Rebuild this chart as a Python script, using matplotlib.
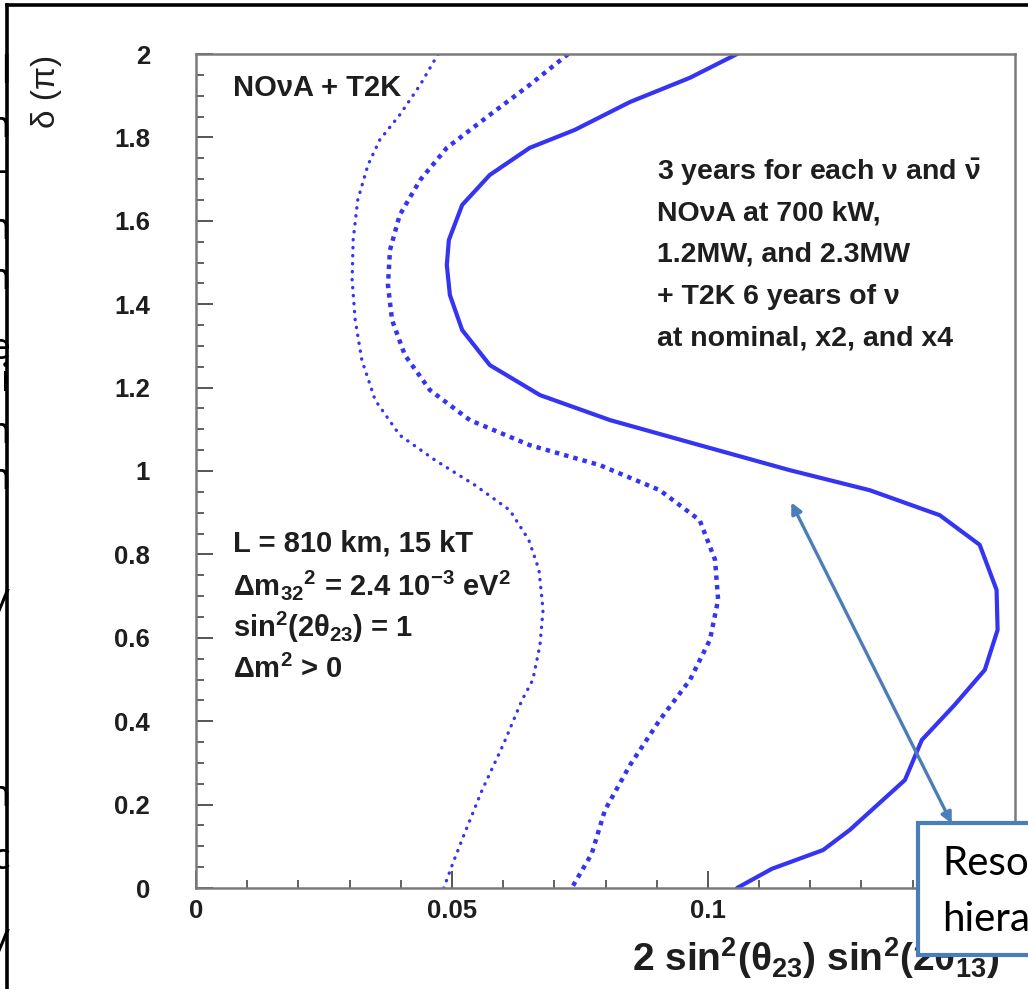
import matplotlib
matplotlib.use("Agg")
import matplotlib.pyplot as plt
from matplotlib.patches import Rectangle, FancyArrowPatch
from matplotlib.lines import Line2D
from matplotlib.ticker import MultipleLocator, FormatStrFormatter

plt.rcParams['font.family'] = ['Liberation Sans', 'DejaVu Sans']
plt.rcParams['mathtext.fontset'] = 'custom'
plt.rcParams['mathtext.rm'] = 'Liberation Sans:bold'
plt.rcParams['mathtext.it'] = 'Liberation Sans:bold'
plt.rcParams['mathtext.bf'] = 'Liberation Sans:bold'
plt.rcParams['mathtext.default'] = 'regular'

W, H = 1028, 989

# contours in (2 sin^2 th23 sin^2 2th13, delta/pi)
outer_x = [0.0473, 0.0438, 0.0398, 0.0359, 0.0336, 0.0316, 0.0307, 0.0305, 0.0311,
           0.0324, 0.0350, 0.0398, 0.0467, 0.0545, 0.0613, 0.0650, 0.0670, 0.0678,
           0.0672, 0.0658, 0.0637, 0.0600, 0.0559, 0.0525, 0.0502, 0.0484]
outer_y = [2.000, 1.926, 1.854, 1.794, 1.734, 1.650, 1.554, 1.458, 1.362,
           1.266, 1.170, 1.086, 1.026, 0.966, 0.906, 0.835, 0.763, 0.667,
           0.583, 0.499, 0.451, 0.343, 0.235, 0.132, 0.060, 0.000]

mid_x = [0.0727, 0.0652, 0.0574, 0.0490, 0.0438, 0.0398, 0.0379, 0.0375, 0.0383,
         0.0408, 0.0457, 0.0535, 0.0652, 0.0789, 0.0906, 0.0984, 0.1014, 0.1020,
         0.1004, 0.0965, 0.0906, 0.0848, 0.0799, 0.0773, 0.0734]
mid_y = [2.000, 1.926, 1.854, 1.775, 1.698, 1.614, 1.530, 1.446, 1.362,
         1.278, 1.194, 1.122, 1.062, 1.014, 0.954, 0.882, 0.787, 0.691,
         0.595, 0.499, 0.403, 0.295, 0.187, 0.082, 0.000]

solid_x = [0.1057, 0.0965, 0.0848, 0.0740, 0.0652, 0.0574, 0.0520, 0.0494, 0.0490,
           0.0496, 0.0520, 0.0574, 0.0672, 0.0809, 0.0984, 0.1160, 0.1316, 0.1453,
           0.1531, 0.1564, 0.1566, 0.1541, 0.1482, 0.1418, 0.1385, 0.1277, 0.1225,
           0.1125, 0.1057]
solid_y = [2.000, 1.943, 1.885, 1.818, 1.775, 1.710, 1.638, 1.554, 1.494,
           1.422, 1.338, 1.254, 1.182, 1.122, 1.062, 1.002, 0.954, 0.894,
           0.823, 0.715, 0.619, 0.523, 0.439, 0.355, 0.259, 0.139, 0.091,
           0.046, 0.000]

x_major = [0, 0.05, 0.1, 0.15]
y_major = [0, 0.2, 0.4, 0.6, 0.8, 1.0, 1.2, 1.4, 1.6, 1.8, 2.0]

left_text = ['L = 810 km, 15 kT',
             r'$\Delta$m$_{32}$$^{2}$ = 2.4 10$^{-3}$ eV$^{2}$',
             r'sin$^{2}$(2$\theta_{23}$) = 1',
             r'$\Delta$m$^{2}$ > 0']
right_text = [r'3 years for each $\nu$ and $\bar{\nu}$',
              'NO\u03bdA at 700 kW,',
              '1.2MW, and 2.3MW',
              '+ T2K 6 years of \u03bd',
              'at nominal, x2, and x4']

# letters of the slide text cut by the left border
edge_letters = ['l', 'n', '-', 'n', 'n', 'e', 'i', 'h', 'n', 'y', 'n', 'c', 'y']
edge_rows = [72, 126, 172, 228, 278, 348, 380, 432, 478, 598, 795, 858, 938]

txt = '#1e1e1e'
blue = '#3434f2'

fig = plt.figure(figsize=(W / 100, H / 100), dpi=100)


def fx(px):
    return px / W


def fy(py):
    return 1 - py / H


ax = fig.add_axes([fx(196), fy(888), fx(1015) - fx(196), fy(54) - fy(888)])
ax.set_xlim(0, 0.16)
ax.set_ylim(0, 2)

ax.plot(outer_x, outer_y, color=blue, lw=2.4, linestyle=(0, (0.1, 2.3)),
        dash_capstyle='round')
ax.plot(mid_x, mid_y, color=blue, lw=3.2, linestyle=(0, (1.0, 1.15)),
        dash_capstyle='butt')
ax.plot(solid_x, solid_y, color=blue, lw=3.0, solid_capstyle='round',
        solid_joinstyle='round')

for s in ax.spines.values():
    s.set_color('#7a7a7a')
    s.set_linewidth(1.8)

ax.xaxis.set_minor_locator(MultipleLocator(0.01))
ax.yaxis.set_minor_locator(MultipleLocator(0.05))
ax.set_xticks(x_major)
ax.set_yticks(y_major)
ax.xaxis.set_major_formatter(FormatStrFormatter('%g'))
ax.yaxis.set_major_formatter(FormatStrFormatter('%g'))
ax.tick_params(which='both', direction='in', colors='#555555', labelcolor=txt,
               labelsize=18.5, top=False, right=False)
for lab in ax.get_xticklabels() + ax.get_yticklabels():
    lab.set_fontweight('bold')
ax.tick_params(which='major', length=12, width=1.4)
ax.tick_params(which='minor', length=5.5, width=1.3)
ax.tick_params(axis='y', which='major', pad=33)
ax.tick_params(axis='x', which='major', pad=8)

fig.text(fx(233), fy(88), 'NO\u03bdA + T2K', fontsize=21, fontweight='bold',
         color=txt, va='center', ha='left')
for i, line in enumerate(right_text):
    fig.text(fx(657), fy(172 + 41.5 * i), line, fontsize=20.5,
             fontweight='bold', color=txt, va='center', ha='left')
for i, line in enumerate(left_text):
    fig.text(fx(233), fy(543 + 42 * i), line, fontsize=21,
             fontweight='bold', color=txt, va='center', ha='left')

fig.text(fx(47), fy(55), '\u03b4 (\u03c0)', rotation=90, fontsize=24,
         color=txt, ha='center', va='top')
fig.text(fx(632), fy(958),
         r'2 sin$^{2}$($\theta_{23}$) sin$^{2}$(2$\theta_{13}$)',
         fontsize=28, fontweight='bold', color=txt, ha='left', va='center')

# callout box with arrow
box = Rectangle((fx(918), fy(955)), fx(1060) - fx(918), fy(823) - fy(955),
                transform=fig.transFigure, facecolor='white',
                edgecolor='#4a7ebb', lw=3, zorder=10)
fig.add_artist(box)
fig.text(fx(942), fy(864), 'Resolving', fontsize=29, family='Lato',
         color='black', va='center', ha='left', zorder=11)
fig.text(fx(942), fy(920), 'hierarchy', fontsize=29, family='Lato',
         color='black', va='center', ha='left', zorder=11)
arrow = FancyArrowPatch((fx(953), fy(826)), (fx(790), fy(500)),
                        transform=fig.transFigure, arrowstyle='<|-|>',
                        mutation_scale=16, color='#4a7ebb', lw=2.4, zorder=9)
fig.add_artist(arrow)

# slide frame and clipped slide text on the left
fig.add_artist(Line2D([fx(7), fx(7)], [0, fy(5)], color='black', lw=2.6))
fig.add_artist(Line2D([fx(7), 1], [fy(5), fy(5)], color='black', lw=2.6))
for ch, py in zip(edge_letters, edge_rows):
    fig.text(fx(10), fy(py), ch, fontsize=28, family='Lato', color='black',
             ha='right', va='center')

fig.savefig('out.png', dpi=100)
